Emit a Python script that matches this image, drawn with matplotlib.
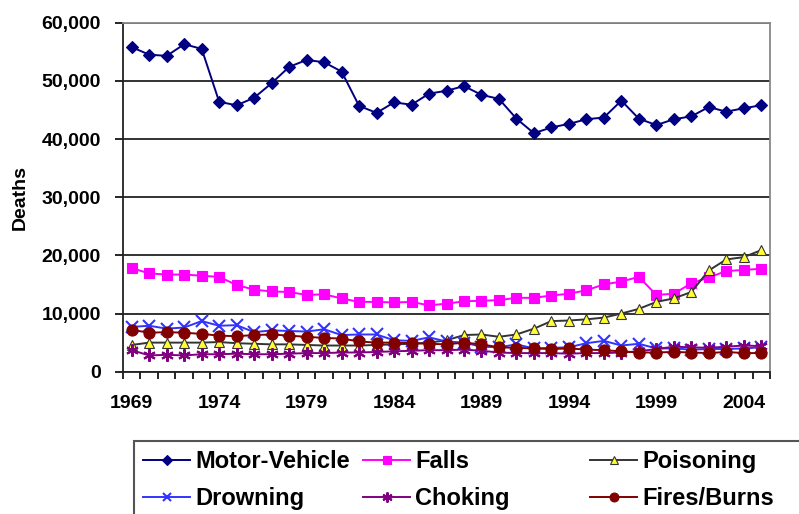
import matplotlib
matplotlib.use('Agg')
import matplotlib.pyplot as plt
from matplotlib.patches import Rectangle
from matplotlib.ticker import FuncFormatter, MultipleLocator

plt.rcParams['font.family'] = ['Liberation Sans', 'DejaVu Sans']
plt.rcParams['font.weight'] = 'bold'

years = list(range(1969, 2006))

motor_vehicle = [55800, 54500, 54300, 56300, 55500, 46400, 45800, 47100, 49600, 52400,
                 53600, 53200, 51600, 45700, 44500, 46300, 45900, 47800, 48300, 49100,
                 47600, 46900, 43500, 41000, 42000, 42600, 43400, 43700, 46600, 43500,
                 42400, 43400, 43900, 45500, 44700, 45300, 45800]
falls = [17800, 16900, 16700, 16700, 16500, 16300, 14900, 14100, 13800, 13700,
         13200, 13300, 12600, 12000, 12000, 11900, 12000, 11400, 11700, 12100,
         12200, 12300, 12700, 12700, 13100, 13400, 14000, 15000, 15500, 16300,
         13200, 13400, 15200, 16200, 17300, 17500, 17700]
poisoning = [4600, 5000, 5000, 5000, 5000, 5100, 4900, 4800, 4700, 4700,
             4600, 4500, 4500, 4500, 4600, 4700, 4800, 5000, 5400, 6300,
             6400, 6000, 6400, 7400, 8700, 8800, 9000, 9300, 10000, 10800,
             12000, 12600, 13700, 17400, 19300, 19700, 20900]
drowning = [7700, 7900, 7400, 7600, 8700, 7900, 8000, 6800, 7100, 7000,
            6900, 7300, 6300, 6400, 6400, 5400, 5300, 5900, 5200, 5000,
            4300, 4200, 4700, 4000, 4100, 4200, 4900, 5300, 4500, 4800,
            4000, 4000, 3800, 3900, 3900, 4000, 4200]
choking = [3700, 2800, 2900, 2800, 3000, 3000, 3100, 3000, 3000, 3100,
           3200, 3200, 3300, 3300, 3400, 3500, 3600, 3700, 3700, 3800,
           3600, 3300, 3200, 3200, 3200, 3100, 3200, 3200, 3300, 3500,
           3900, 4300, 4200, 4100, 4300, 4500, 4400]
fires_burns = [7200, 6700, 6800, 6700, 6500, 6200, 6100, 6300, 6400, 6200,
               6000, 5800, 5700, 5200, 5000, 5000, 4900, 4800, 4700, 5000,
               4700, 4200, 4100, 4000, 3900, 4000, 3800, 3700, 3500, 3300,
               3300, 3400, 3300, 3200, 3400, 3200, 3200]

# label, data, line colour, marker, marker face, marker edge, size
series = [
    ("Motor-Vehicle", motor_vehicle, '#000080', 'D', '#000080', '#000080', 6),
    ("Falls", falls, '#FF00FF', 's', '#FF00FF', '#FF00FF', 7),
    ("Poisoning", poisoning, '#333333', '^', '#FFFF33', '#333333', 7),
    ("Drowning", drowning, '#3333FF', 'x', '#3333FF', '#3333FF', 8),
    ("Choking", choking, '#800080', (6, 2, 0), '#800080', '#800080', 9),
    ("Fires/Burns", fires_burns, '#800000', 'o', '#800000', '#800000', 8),
]

fig = plt.figure(figsize=(7.99, 5.14), dpi=100)
ax = fig.add_axes([123 / 799, 1 - 371.7 / 514, 647 / 799, 349 / 514])

handles = {}
for label, vals, col, mk, mfc, mec, ms in series:
    thin = not (mk == 'x' or isinstance(mk, tuple))
    ln, = ax.plot(years, vals, color=col, lw=1.4, marker=mk, markersize=ms,
                  markerfacecolor=mfc, markeredgecolor=mec,
                  markeredgewidth=0.8 if thin else 1.5,
                  label=label, clip_on=False)
    handles[label] = ln

ax.set_xlim(1968.5, 2005.5)
ax.set_ylim(0, 60000)
ax.yaxis.set_major_locator(MultipleLocator(10000))
ax.yaxis.set_major_formatter(FuncFormatter(lambda v, p: f"{int(v):,}"))
ax.set_xticks(years[::5])
ax.set_xticks([y + 0.5 for y in range(1968, 2006)], minor=True)
ax.tick_params(axis='x', which='major', length=0, pad=17, labelsize=14)
ax.tick_params(axis='x', which='minor', length=5, width=1.2, direction='out')
ax.tick_params(axis='y', length=6, width=1.2, direction='out', labelsize=14, pad=10)
ax.grid(axis='y', color='#222222', lw=1.3)
ax.set_axisbelow(True)
for s in ['left', 'bottom']:
    ax.spines[s].set_color('#222222')
    ax.spines[s].set_linewidth(1.3)
for s in ['top', 'right']:
    ax.spines[s].set_color('#888888')
    ax.spines[s].set_linewidth(1.3)
ax.set_ylabel("Deaths", fontsize=14, fontweight='bold', labelpad=9)

# legend box that runs off the page, as in the source
fig.add_artist(Rectangle((134 / 799, -0.1), 1.0, 0.1 + (1 - 441 / 514),
                         transform=fig.transFigure, fill=False,
                         edgecolor='#555555', lw=1.5))
cols = [("Motor-Vehicle", "Drowning", 143), ("Falls", "Choking", 363),
        ("Poisoning", "Fires/Burns", 590)]
for top, bottom, xpix in cols:
    fig.legend(handles=[handles[top], handles[bottom]], loc='upper left',
               bbox_to_anchor=(xpix / 799, 1 - 450 / 514), frameon=False,
               fontsize=17, handlelength=2.0, handletextpad=0.2,
               borderpad=0, borderaxespad=0, labelspacing=0.6,
               markerscale=0.8)

fig.savefig('out.png', dpi=100)
